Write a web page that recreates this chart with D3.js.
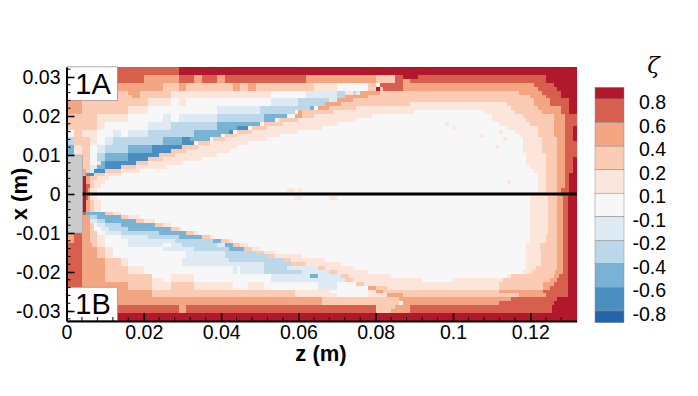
<!DOCTYPE html>
<html><head><meta charset="utf-8">
<script src="https://cdn.jsdelivr.net/npm/d3@7/dist/d3.min.js"></script>
<style>html,body{margin:0;background:#fff}svg{display:block}text{font-family:"Liberation Sans",Arial,sans-serif;fill:#000}</style>
</head><body><svg id="c" width="698" height="396"></svg>
<script>
// colour classes a..k, bottom to top of the legend
const levelCodes = ["a","b","c","d","e","f","g","h","i","j","k"];
const levelColors = ["#2166ac","#4a8fc2","#78b3d6","#bbd8ea","#dfebf4","#f7f7f7","#fce6dc","#fbcbb3","#f4a582","#d6604d","#b2182b"];
const legendLabels = ["0.8","0.6","0.4","0.2","0.1","-0.1","-0.2","-0.4","-0.6","-0.8"];
const zTicks = [0,0.02,0.04,0.06,0.08,0.1,0.12];
const zTickLabels = ["0","0.02","0.04","0.06","0.08","0.1","0.12"];
const xTicks = [-0.03,-0.02,-0.01,0,0.01,0.02,0.03];
const xTickLabels = ["-0.03","-0.02","-0.01","0","0.01","0.02","0.03"];
const zMinor = [0.004,0.008,0.012,0.016,0.024,0.028,0.032,0.036,0.044,0.048,0.052,0.056,0.064,0.068,0.072,0.076,0.084,0.088,0.092,0.096,0.104,0.108,0.112,0.116,0.124,0.128];
const xMinor = [-0.032,-0.028,-0.026,-0.024,-0.022,-0.018,-0.016,-0.014,-0.012,-0.008,-0.006,-0.004,-0.002,0.002,0.004,0.006,0.008,0.012,0.014,0.016,0.018,0.022,0.024,0.026,0.028,0.032];
// rows of the field: x in mm (row centre), then runs "class + end z in mm"
const rowX = [32,31,30,29,28,27,26,25,24,23,22,21,20,19,18,17,16,15,14,13,12,11,10,9,8,7,6,5,4,3,2,1,0,-1,-2,-3,-4,-5,-6,-7,-8,-9,-10,-11,-12,-13,-14,-15,-16,-17,-18,-19,-20,-21,-22,-23,-24,-25,-26,-27,-28,-29,-30,-31,-32];
const rowRuns = [
"j29 k132",
"j29 k132",
"j20 i29 j33 i35 j39 i41 j62 i80 h85 j87 k91 j124 k132",
"j20 i29 j33 i35 j39 i41 j62 i80 h85 j87 i89 j124 k132",
"i25 h29 i31 h43 i45 h47 i49 h64 g70 f78 h80 f81 j87 i121 j126 k132",
"i25 h29 i31 h43 i45 h47 i49 h64 g70 f78 h80 k81 h82 j87 i122 j127 k132",
"h16 i19 h27 g53 f62 e70 d72 g74 d75 e76 i81 h117 i123 j128 k132",
"h17 i19 h27 g53 f62 e70 d72 i78 h120 i124 j128 k132",
"i4 h21 g27 f29 g31 f53 e60 d68 e70 i74 h121 i125 j130 k132",
"i4 h21 g27 f29 g31 f53 e60 d67 i71 h89 g114 h121 i125 j130 k132",
"i4 h16 g21 f39 e50 d63 c64 f65 i68 h75 g115 h122 i128 j130 k132",
"i4 h16 g21 f39 e50 d59 f60 i61 h69 g90 f108 g116 h123 i128 j130 k132",
"h8 g16 f25 e27 f29 e39 d51 c57 f59 i61 h64 g79 f110 g118 h126 i129 j132",
"h8 g16 f25 e27 f29 e39 d51 c54 f55 h60 g75 f110 g119 h126 i129 j132",
"h8 g10 f21 e27 d39 c50 f51 h56 g70 f98 g99 f112 g120 h126 i129 j132",
"h8 g10 f21 e27 d39 c44 b47 f48 h52 g66 f100 g101 f114 g122 h126 i129 j131 k132",
"f2 h4 g8 f12 e14 f16 e21 d33 c42 b43 f44 h48 g60 f112 g113 f116 g122 h126 i129 j131 k132",
"f2 h4 g8 f12 e14 f16 e21 d33 c40 f41 h44 g55 f107 g108 f117 g122 h126 i129 j131 k132",
"d2 h6 g8 f10 e12 d25 c30 b32 c37 f38 h41 g52 f113 g114 f118 g123 h127 i129 j131 k132",
"d2 h6 g8 f10 e12 d25 c30 b33 f34 h37 g47 f118 g123 h127 i129 j132",
"c2 g4 h6 f8 e10 d16 c22 b30 h34 g44 f111 g112 f118 g123 h127 i129 j132",
"c2 g4 h6 f8 e10 d16 c22 b27 h31 g42 f118 g123 h127 i129 j132",
"c2 g4 h6 f8 d10 c16 b24 h28 g39 f119 g124 h127 i129 j132",
"h6 f8 d10 c16 b21 h25 g35 f119 g124 h127 i129 j131 k132",
"h6 f8 e9 c10 b18 h21 g30 f119 g124 h127 i129 j131 k132",
"h6 e8 c10 b14 h18 g26 f120 g124 h127 i129 j131 k132",
"i5 h6 e7 b10 h14 g19 f121 g124 h127 i129 j131 k132",
"i5 b7 h10 g14 f122 g124 h127 i129 j130 k132",
"k5 i6 h8 g11 f122 g124 h127 i129 j130 k132",
"k5 i6 h7 g10 f114 g115 f122 g124 h127 i129 j130 k132",
"k5 j6 h7 g9 f122 g124 h127 i129 j130 k132",
"k5 j5.5 i6 g8 f57 g59 f60 g61 f122 g124 h127 i128 j130 k132",
"k5 i6 g8 f121 g124 h127 i128 j130 k132",
"k5 j5.5 i6 g8 f59 g61 f68 g70 f120 g124.5 h126.9 i128.5 j129.8 k132",
"k5 i6 h7 g9 f120 g124.5 h126.9 i128.5 j129.8 k132",
"k5 i6 h7 g9 f120 g124.5 h126.9 i128.5 j129.8 k132",
"k5 i6 h7 g9 f120 g124.5 h126.9 i128.5 j129.8 k132",
"j5 c10 h12 g14 f120 g124.5 h126.9 i128.5 j129.8 k132",
"i6 d8 c14 h16 g19 f120 g124.5 h126.9 i128.5 j129.8 k132",
"i6 e8 d10 c18 h20 g23 f120 g124.5 h126.9 i128.5 j129.8 k132",
"i6 h7 f8 e10 d14 c23 h25 g27 f120 g124.5 h126.9 i128.5 j129.8 k132",
"i6 h7 f9 e11 d16 c27 h29 g30 f120 g124.5 h126.9 i128.5 j129.8 k132",
"i2 j4 i6 h8 f10 e14 d24 c31 h33 g34 f120 g124.5 h126.9 i128.5 j129.8 k132",
"i2 j4 i6 h8 g10 f14 e21 d29 c35 h37 g38 f120 g124 h126.9 i128.5 j129.8 k132",
"i2 j4 i6 h8 g10 f16 e28 d38 c40 h42 g43 f120 g124 h126.9 i128.5 j129.8 k132",
"j4 i6.5 h8 g10 f16 e25 f27 e30 d39 e41 c43 h45 g47 f119 g122.5 h126.9 i128.5 j129.8 k132",
"j4 i8 h10 g12 f25 e33 d42 c46 h48 g50 f119 g122.5 h126.9 i128.5 j129.8 k132",
"j4 i8 h10 g12 f31 e41 d49 h51 g54 f119 g122.8 h126.9 i128.5 j129.8 k132",
"j4 i8 h10 g12 f31 e41 d52 h54 g61 f118.6 g122.8 h126.9 i128.5 j129.8 k132",
"j4 i10 h14 g16 f30 e42 d56 h58 g67 f119 g122.8 h126.9 i128.5 j129.8 k132",
"j4 i10 h14 g16 f30 e51 d58 h62 g71 f119 g122.8 h126.9 i128.5 j129.8 k132",
"j4 i10 h16 g20 f43 e44 f45 e51 d57 e65 h67 g74 f119 g121.5 h126.9 i128.5 j129.8 k132",
"j4 i10 h16 g20 f43 e44 f45 e51 d61 e68 h70 g78 f118 g120.4 h126.5 i128.5 j129.8 k132",
"j4 i10 h22 f27 g33 f53 e63 c65 e71 h73 g84 f114 g115 h126 i127.5 j129.8 k132",
"j4 i10 h22 g25 f27 g33 f53 e65 e72 h74 g92 f100 g113 h125 i127 j129.8 k132",
"j4 i16 h22 g27 h33 g43 f47 g51 f65 e70 f75 h77 g112 h123.3 i126 j129.8 k132",
"j4 i16 h22 g27 h33 g43 f47 g51 f65 e70 f78 i80 h83 g112 h123.3 i125 j129.8 k132",
"j4 i22 h59 g68 f78 g80 i82 h112 i123.3 j129.8 k132",
"j4 i22 h59 g70 f78 g83 i87 h117 i124 j129.8 k132",
"j4 i66 h86 i115 j127 k132",
"j4 i66 h86 f87 i112 j126 k132",
"j29 i31 j80 h85 i89 j125.6 k132",
"j29 i31 j80 h84 i89 j125.6 k132",
"k132",
"k132"
];
const bodyZ = [0,0.0042];
const bodyX = [-0.01,0.01];
const wakeLine = [[0.0042,0],[0.132,0]];
const boxes = [{t:"1A",z0:0,x0:0.0326},{t:"1B",z0:0,x0:-0.0239}];

const svg = d3.select("#c");
const zS = d3.scaleLinear().domain([0,0.132]).range([66.5,576.7]);
const xS = d3.scaleLinear().domain([-0.03256,0.03256]).range([321,67]);

const cells = [];
rowX.forEach((xm,i)=>{
  let z0 = 0;
  rowRuns[i].split(" ").forEach(run=>{
    const z1 = parseFloat(run.slice(1));
    cells.push({x:xm/1000,z0:z0/1000,z1:z1/1000,lv:levelCodes.indexOf(run[0])});
    z0 = z1;
  });
});
const clampX = v=>Math.max(-0.03256,Math.min(0.03256,v));
svg.append("g").selectAll("rect").data(cells).join("rect")
  .attr("shape-rendering","crispEdges")
  .attr("x",d=>Math.round(zS(d.z0)))
  .attr("width",d=>Math.round(zS(d.z1))-Math.round(zS(d.z0)))
  .attr("y",d=>Math.round(xS(clampX(d.x+0.0005))))
  .attr("height",d=>Math.round(xS(clampX(d.x-0.0005)))-Math.round(xS(clampX(d.x+0.0005))))
  .attr("fill",d=>levelColors[d.lv]);

// solid body
svg.append("rect").attr("x",zS(bodyZ[0])).attr("y",xS(bodyX[1]))
  .attr("width",zS(bodyZ[1])-zS(bodyZ[0])).attr("height",xS(bodyX[0])-xS(bodyX[1]))
  .attr("fill","#cbcbcb").attr("stroke","#9a9a9a").attr("stroke-width",0.5);
// wake line
svg.append("path").attr("d",d3.line().x(d=>zS(d[0])).y(d=>xS(d[1]))(wakeLine))
  .attr("stroke","#000").attr("stroke-width",3).attr("fill","none");

// labelled boxes
boxes.forEach(b=>{
  const g = svg.append("g");
  g.append("rect").attr("x",zS(b.z0)+0.5).attr("y",xS(b.x0))
   .attr("width",50.5).attr("height",33.5).attr("fill","#fff").attr("stroke","#8c8c8c").attr("stroke-width",0.7);
  g.append("text").text(b.t).attr("x",zS(b.z0)+26.5).attr("y",xS(b.x0)+27)
   .attr("text-anchor","middle").attr("font-size",29);
});

// axes
const axZ = d3.axisBottom(zS).tickValues(zTicks).tickSize(-8).tickSizeOuter(0).tickPadding(5)
  .tickFormat((d,i)=>zTickLabels[i]);
const axX = d3.axisLeft(xS).tickValues(xTicks).tickSize(-8).tickSizeOuter(0).tickPadding(6)
  .tickFormat((d,i)=>xTickLabels[i]);
const gz = svg.append("g").attr("transform","translate(0,321)").call(axZ);
const gx = svg.append("g").attr("transform","translate(66.5,0)").call(axX);
[gz,gx].forEach(g=>{
  g.selectAll("path.domain").attr("stroke","#000").attr("stroke-width",2);
  g.selectAll("line").attr("stroke","#000").attr("stroke-width",1.6);
  g.selectAll("text").attr("font-size",19.5).attr("font-family","'Liberation Sans',Arial,sans-serif");
});
gz.selectAll("text").attr("dy",null).attr("y",18);
svg.append("g").selectAll("line").data(zMinor).join("line")
  .attr("x1",d=>zS(d)).attr("x2",d=>zS(d)).attr("y1",321).attr("y2",317)
  .attr("stroke","#000").attr("stroke-width",1);
svg.append("g").selectAll("line").data(xMinor).join("line")
  .attr("x1",66.5).attr("x2",70.5).attr("y1",d=>xS(d)).attr("y2",d=>xS(d))
  .attr("stroke","#000").attr("stroke-width",1);

svg.append("text").text("z (m)").attr("x",321).attr("y",361).attr("text-anchor","middle")
  .attr("font-size",22).attr("font-weight","bold");
svg.append("text").text("x (m)").attr("transform","translate(27,194) rotate(-90)").attr("text-anchor","middle")
  .attr("font-size",22).attr("font-weight","bold");

// legend
const lg = d3.scaleLinear().domain([0.5,10.5]).range([87.3,322.7]);
const legendCells = levelColors.slice().reverse().map((c,i)=>({c,y0:Math.max(0.5,i),y1:Math.min(10.5,i+1)}));
svg.append("g").selectAll("rect").data(legendCells).join("rect")
  .attr("x",595).attr("width",29).attr("y",d=>lg(d.y0)).attr("height",d=>lg(d.y1)-lg(d.y0))
  .attr("fill",d=>d.c).attr("stroke","#8a8a8a").attr("stroke-width",0.5);
svg.append("g").selectAll("text").data(legendLabels).join("text")
  .text(d=>d).attr("x",666).attr("y",(d,i)=>lg(i+1)+10).attr("text-anchor","end").attr("font-size",19.5);
svg.append("text").text("ζ").attr("x",653.5).attr("y",73).attr("text-anchor","middle")
  .attr("font-size",23).attr("font-style","italic").style("font-family","'DejaVu Serif',serif");
</script></body></html>
